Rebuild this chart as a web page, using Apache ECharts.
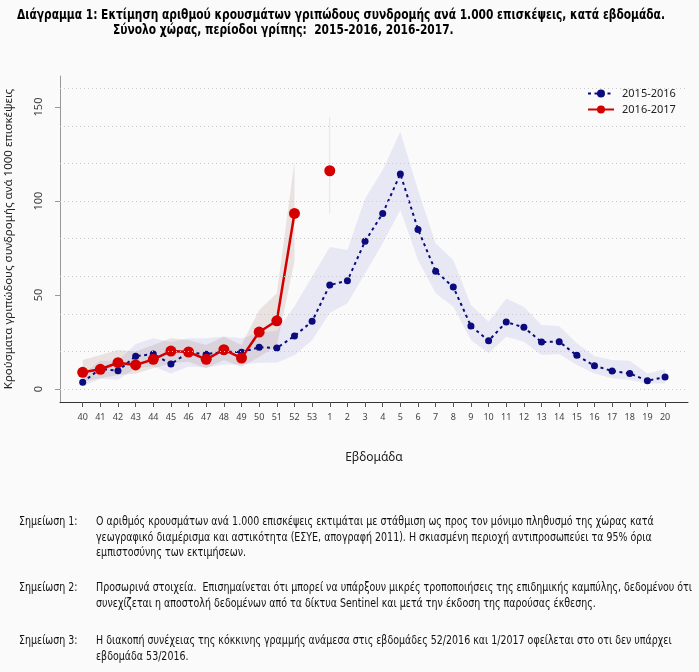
<!DOCTYPE html>
<html>
<head>
<meta charset="utf-8">
<title>Διάγραμμα 1</title>
<script src="https://cdn.jsdelivr.net/npm/echarts@6/dist/echarts.min.js"></script>
<style>
  html, body { margin: 0; padding: 0; background: #fafafa; }
  #chart { width: 699px; height: 672px; }
</style>
</head>
<body>
<div id="chart"></div>
<script>
// εβδομάδες 40/2015 ... 20/2016 (η 53 υπάρχει μόνο το 2015)
const weeks = ['40','41','42','43','44','45','46','47','48','49','50','51','52','53',
  '1','2','3','4','5','6','7','8','9','10','11','12','13','14','15','16','17','18','19','20']

const s1516 = [3.6, 10.8, 9.7, 17.5, 18.6, 13.3, 19.5, 18.5, 19.9, 19.6, 22.2, 21.8, 28.2, 36.0,
  55.3, 57.6, 78.6, 93.4, 114.4, 84.9, 62.6, 54.3, 33.5, 25.7, 35.6, 32.8, 25.0, 25.2, 17.9, 12.4, 9.6, 8.3, 4.4, 6.4]
const lo1516 = [1.5, 5.5, 5.0, 11.0, 12.0, 8.3, 12.0, 11.5, 13.0, 13.0, 14.0, 14.0, 18.0, 26.0,
  40.5, 45.6, 61.5, 77.5, 95.2, 68.6, 50.9, 43.8, 26.1, 19.0, 27.8, 25.2, 18.1, 18.6, 12.8, 8.3, 5.7, 4.8, 3.0, 3.0]
const hi1516 = [8.0, 15.0, 15.0, 24.0, 27.0, 25.0, 27.0, 27.0, 28.0, 27.0, 30.0, 31.0, 44.0, 59.7,
  75.5, 74.0, 101.4, 116.5, 136.9, 105.9, 77.5, 68.6, 44.7, 35.8, 48.2, 43.8, 34.0, 33.5, 24.3, 17.6, 15.4, 15.1, 8.3, 10.5]

const s1617 = [8.9, 10.5, 14.0, 12.8, 15.8, 20.2, 19.7, 15.8, 20.9, 16.5, 30.3, 36.3, 93.4, null, 116.1]
const lo1617 = [3.9, 5.7, 7.4, 8.3, 11.0, 13.7, 14.5, 11.0, 15.4, 11.9, 17.0, 23.0, 68.0, null, 93.4]
const hi1617 = [15.4, 18.1, 20.7, 19.9, 23.4, 27.0, 26.1, 23.4, 27.8, 23.4, 42.0, 51.0, 121.0, null, 144.8]

const yLabels = [0, 50, 100, 150]
const gridVals = [0, 20, 40, 60, 80, 100, 120, 140, 160]

const titleLines = [
  'Διάγραμμα 1: Εκτίμηση αριθμού κρουσμάτων γριπώδους συνδρομής ανά 1.000 επισκέψεις, κατά εβδομάδα.',
  'Σύνολο χώρας, περίοδοι γρίπης:  2015-2016, 2016-2017.'
]

const notes = [
  ['Σημείωση 1:', [
    'Ο αριθμός κρουσμάτων ανά 1.000 επισκέψεις εκτιμάται με στάθμιση ως προς τον μόνιμο πληθυσμό της χώρας κατά',
    'γεωγραφικό διαμέρισμα και αστικότητα (ΕΣΥΕ, απογραφή 2011). Η σκιασμένη περιοχή αντιπροσωπεύει τα 95% όρια',
    'εμπιστοσύνης των εκτιμήσεων.'], 522],
  ['Σημείωση 2:', [
    'Προσωρινά στοιχεία.  Επισημαίνεται ότι μπορεί να υπάρξουν μικρές τροποποιήσεις της επιδημικής καμπύλης, δεδομένου ότι',
    'συνεχίζεται η αποστολή δεδομένων από τα δίκτυα Sentinel και μετά την έκδοση της παρούσας έκθεσης.'], 588],
  ['Σημείωση 3:', [
    'Η διακοπή συνέχειας της κόκκινης γραμμής ανάμεσα στις εβδομάδες 52/2016 και 1/2017 οφείλεται στο οτι δεν υπάρχει',
    'εβδομάδα 53/2016.'], 641]
]

const narrow = "'Liberation Sans Narrow', 'DejaVu Sans Condensed', sans-serif"
const titleFont = 'bold 14px ' + narrow
const noteFont = '11.5px ' + narrow
const BLUE = '#0b0b7e'
const RED = '#d40000'

const measure = document.createElement('canvas').getContext('2d')
function textWidth(text, font) {
  measure.font = font
  return measure.measureText(text).width
}
// στενεύουμε το κείμενο ώστε να πιάνει το ίδιο πλάτος με το πρωτότυπο
const titleScale = 648 / textWidth(titleLines[0], titleFont)
const noteScale = 596 / textWidth(notes[1][1][0], noteFont)

// συνεχόμενα τμήματα χωρίς κενά
function runs(arr) {
  const out = []
  let start = null
  arr.forEach((v, i) => {
    if (v != null && start === null) start = i
    if (start !== null && (v == null || i === arr.length - 1)) {
      out.push([start, v == null ? i - 1 : i])
      start = null
    }
  })
  return out
}

function band(lo, hi, color) {
  return function (params, api) {
    const s = api.value(0)
    const e = api.value(1)
    const top = []
    const bot = []
    for (let i = s; i <= e; i++) {
      top.push(api.coord([i, hi[i]]))
      bot.unshift(api.coord([i, lo[i]]))
    }
    if (s === e) {
      return {
        type: 'line',
        shape: { x1: top[0][0], y1: top[0][1], x2: bot[0][0], y2: bot[0][1] },
        style: { stroke: color, lineWidth: 1 }
      }
    }
    return { type: 'polygon', shape: { points: top.concat(bot) }, style: { fill: color } }
  }
}

const toPairs = arr => arr.map((v, i) => [i, v == null ? '-' : v])

const chart = echarts.init(document.getElementById('chart'))

const graphics = [
  { type: 'text', x: 17, y: 15, scaleX: titleScale,
    style: { text: titleLines[0], font: titleFont, fill: '#000', verticalAlign: 'middle' } },
  { type: 'text', x: 113, y: 30, scaleX: titleScale,
    style: { text: titleLines[1], font: titleFont, fill: '#000', verticalAlign: 'middle' } }
]
notes.forEach(n => {
  graphics.push({ type: 'text', x: 19, y: n[2], scaleX: noteScale,
    style: { text: n[0], font: noteFont, fill: '#111', verticalAlign: 'middle' } })
  n[1].forEach((line, k) => {
    graphics.push({ type: 'text', x: 96, y: n[2] + k * 15.7, scaleX: noteScale,
      style: { text: line, font: noteFont, fill: '#111', verticalAlign: 'middle' } })
  })
})

const option = {
  backgroundColor: '#fafafa',
  animation: false,
  legend: {
    data: ['2015-2016', '2016-2017'],
    orient: 'vertical',
    left: 583, top: 82,
    padding: [6, 10, 12, 4],
    itemWidth: 26, itemHeight: 10, itemGap: 5,
    backgroundColor: '#fafafa',
    textStyle: { fontFamily: 'Noto Sans', fontSize: 11, color: '#222', padding: [0, 0, 0, 3] }
  },
  graphic: graphics,
  grid: { left: 60, right: 11, top: 76, bottom: 270, containLabel: false, outerBoundsMode: 'none' },
  xAxis: {
    type: 'value',
    min: -1.286, max: 34.3,
    name: 'Εβδομάδα',
    nameLocation: 'middle',
    nameGap: 50,
    nameTextStyle: { fontFamily: 'Noto Sans', fontSize: 12, color: '#222' },
    axisLine: { onZero: false, lineStyle: { color: '#333', width: 1 } },
    axisTick: { show: true, length: 5, lineStyle: { color: '#555' }, customValues: weeks.map((w, i) => i) },
    axisLabel: { fontFamily: 'Noto Sans', fontSize: 9, color: '#444', margin: 11,
      customValues: weeks.map((w, i) => i), formatter: v => weeks[Math.round(v)] },
    splitLine: { show: false }
  },
  yAxis: {
    type: 'value',
    min: -6.9, max: 166.5,
    name: 'Κρούσματα γριπώδους συνδρομής ανά 1000 επισκέψεις',
    nameLocation: 'middle',
    nameGap: 45,
    nameTextStyle: { fontFamily: 'Noto Sans', fontSize: 11.5, color: '#222' },
    axisLine: { show: true, onZero: false, lineStyle: { color: '#999' } },
    axisTick: { show: true, length: 5, lineStyle: { color: '#999' }, customValues: yLabels },
    axisLabel: { fontFamily: 'Noto Sans', fontSize: 11, color: '#444', rotate: 90, margin: 16,
      customValues: yLabels },
    splitLine: { show: false }
  },
  series: [
    {
      name: 'grid', type: 'line', data: [], z: 0, silent: true,
      markLine: {
        silent: true, symbol: 'none', label: { show: false }, animation: false,
        lineStyle: { type: [1, 3], color: '#c8c8c8', width: 1 },
        data: gridVals.map(v => ({ yAxis: v }))
      }
    },
    {
      name: 'ci1516', type: 'custom', z: 1, silent: true,
      renderItem: band(lo1516, hi1516, 'rgba(70,80,200,0.1)'),
      data: runs(lo1516)
    },
    {
      name: 'ci1617', type: 'custom', z: 1, silent: true,
      renderItem: band(lo1617, hi1617, 'rgba(150,105,100,0.16)'),
      data: runs(lo1617)
    },
    {
      name: '2015-2016', type: 'line', z: 3,
      data: toPairs(s1516),
      symbol: 'circle', symbolSize: 7,
      itemStyle: { color: BLUE },
      lineStyle: { color: BLUE, width: 2, type: [3, 3.5] }
    },
    {
      name: '2016-2017', type: 'line', z: 4,
      data: toPairs(s1617),
      connectNulls: false,
      symbol: 'circle', symbolSize: 11,
      itemStyle: { color: RED },
      lineStyle: { color: RED, width: 2.5 }
    }
  ]
}

chart.setOption(option)
</script>
</body>
</html>
